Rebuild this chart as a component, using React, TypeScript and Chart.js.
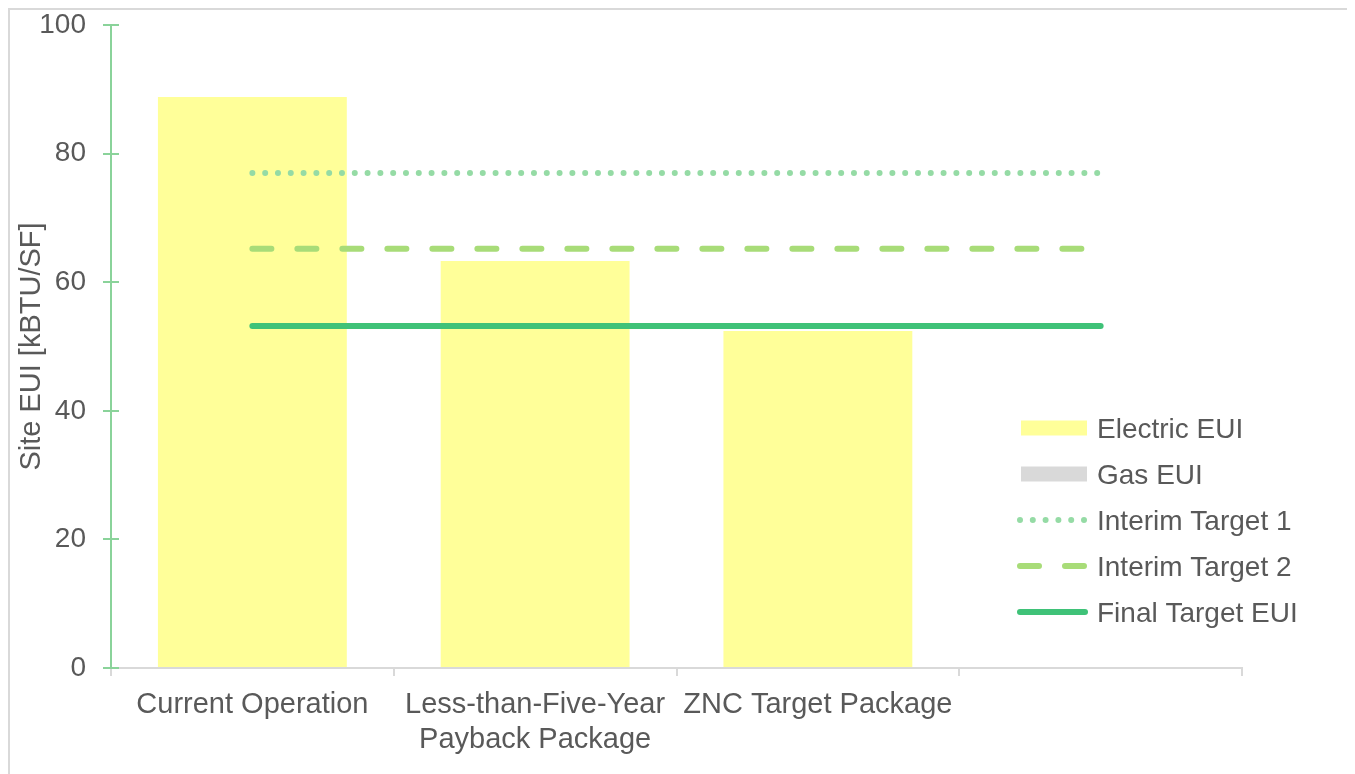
import React, { useEffect, useRef } from "react";
import { Chart, registerables } from "chart.js";

Chart.register(...registerables);

// ---- Data ----
const categories: (string | string[])[] = [
  "Current Operation",
  ["Less-than-Five-Year", "Payback Package"],
  "ZNC Target Package",
  "",
];
const electricEUI = [88.8, 63.3, 52.4, null];
const gasEUI = [0, 0, 0, null];
const interimTarget1 = [77, 77, 77, 77];
const interimTarget2 = [65.2, 65.2, 65.2, 65.2];
const finalTargetEUI = [53.2, 53.2, 53.2, 53.2];
const yTicks = [0, 20, 40, 60, 80, 100];
const yTitle = "Site EUI [kBTU/SF]";

// ---- Styles ----
const FONT = '"Liberation Sans", Arial, sans-serif';
const TEXT = "#595959";
const AXIS_GREEN = "#8ad39a";
const GRAY = "#d9d9d9";

const crossTicksPlugin = {
  id: "crossTicks",
  afterDraw(chart: any) {
    const ys = chart.scales.y;
    const ctx = chart.ctx;
    ctx.save();
    ctx.strokeStyle = AXIS_GREEN;
    ctx.lineWidth = 2;
    ys.ticks.forEach((_t: any, i: number) => {
      const py = Math.round(ys.getPixelForTick(i));
      ctx.beginPath();
      ctx.moveTo(chart.chartArea.left, py);
      ctx.lineTo(chart.chartArea.left + 8, py);
      ctx.stroke();
    });
    ctx.restore();
  },
};

const legendPlugin = {
  id: "customLegend",
  afterDraw(chart: any) {
    const ctx = chart.ctx;
    const area = chart.chartArea;
    const symLeft = area.right - 221;
    const textLeft = area.right - 145;
    const rowY0 = area.bottom - 240;
    const rowH = 46;
    chart.data.datasets.forEach((ds: any, i: number) => {
      const y = rowY0 + i * rowH;
      ctx.save();
      if (ds.type === "line") {
        ctx.strokeStyle = ds.borderColor;
        ctx.lineWidth = ds.borderWidth;
        ctx.lineCap = "round";
        ctx.setLineDash(ds.borderDash || []);
        ctx.beginPath();
        ctx.moveTo(symLeft - 1, y);
        ctx.lineTo(symLeft + 64, y);
        ctx.stroke();
      } else {
        ctx.fillStyle = ds.backgroundColor;
        ctx.fillRect(symLeft, y - 7.5, 66, 15);
      }
      ctx.setLineDash([]);
      ctx.fillStyle = TEXT;
      ctx.font = `28px ${FONT}`;
      ctx.textBaseline = "middle";
      ctx.textAlign = "left";
      ctx.fillText(ds.label, textLeft, y + 2);
      ctx.restore();
    });
  },
};

export default function App() {
  const ref = useRef<HTMLCanvasElement | null>(null);

  useEffect(() => {
    if (!ref.current) return;
    const chart = new Chart(ref.current, {
      type: "bar",
      data: {
        labels: categories as any,
        datasets: [
          {
            type: "bar",
            label: "Electric EUI",
            data: electricEUI as any,
            backgroundColor: "#ffff99",
            stack: "eui",
            order: 1,
            barPercentage: 0.668,
            categoryPercentage: 1,
          },
          {
            type: "bar",
            label: "Gas EUI",
            data: gasEUI as any,
            backgroundColor: GRAY,
            stack: "eui",
            order: 1,
            barPercentage: 0.668,
            categoryPercentage: 1,
          },
          {
            type: "line",
            label: "Interim Target 1",
            data: interimTarget1,
            borderColor: "#95dba5",
            borderWidth: 6,
            borderDash: [0, 12.8],
            borderCapStyle: "round",
            pointRadius: 0,
            fill: false,
            stack: "t1",
            order: 0,
          },
          {
            type: "line",
            label: "Interim Target 2",
            data: interimTarget2,
            borderColor: "#a8dc78",
            borderWidth: 6,
            borderDash: [19, 26],
            borderCapStyle: "round",
            pointRadius: 0,
            fill: false,
            stack: "t2",
            order: 0,
          },
          {
            type: "line",
            label: "Final Target EUI",
            data: finalTargetEUI,
            borderColor: "#3fc278",
            borderWidth: 6,
            borderCapStyle: "round",
            pointRadius: 0,
            fill: false,
            stack: "t3",
            order: 0,
          },
        ] as any,
      },
      options: {
        responsive: false,
        animation: false,
        devicePixelRatio: 1,
        layout: {
          autoPadding: false,
          padding: { top: 15, right: 110, left: 0, bottom: 0 },
        } as any,
        plugins: {
          legend: { display: false },
          tooltip: { enabled: false },
        },
        scales: {
          x: {
            stacked: true,
            offset: true,
            afterFit(scale: any) {
              scale.height = 106;
              scale.paddingLeft = 0;
              scale.paddingRight = 0;
            },
            grid: {
              offset: true,
              drawOnChartArea: false,
              drawTicks: true,
              tickLength: 8,
              color: GRAY,
              lineWidth: 2,
            },
            border: { color: GRAY, width: 2 },
            ticks: {
              color: TEXT,
              font: { family: FONT, size: 29 },
              padding: 12,
              maxRotation: 0,
              minRotation: 0,
              autoSkip: false,
            },
          },
          y: {
            stacked: true,
            min: yTicks[0],
            max: yTicks[yTicks.length - 1],
            afterFit(scale: any) {
              scale.width = 101;
              scale.paddingTop = 0;
              scale.paddingBottom = 0;
            },
            afterBuildTicks(scale: any) {
              scale.ticks = yTicks.map((v) => ({ value: v }));
            },
            grid: {
              drawOnChartArea: false,
              drawTicks: true,
              tickLength: 8,
              color: AXIS_GREEN,
              lineWidth: 2,
            },
            border: { color: AXIS_GREEN, width: 2 },
            ticks: {
              color: TEXT,
              font: { family: FONT, size: 28 },
              padding: 17,
            },
            title: {
              display: true,
              text: yTitle,
              color: TEXT,
              font: { family: FONT, size: 29 },
              padding: { top: 5, bottom: 0 },
            },
          },
        },
      } as any,
      plugins: [crossTicksPlugin, legendPlugin],
    });
    return () => chart.destroy();
  }, []);

  return (
    <div
      style={{
        width: 1346,
        height: 780,
        border: `2px solid ${GRAY}`,
        boxSizing: "border-box",
        background: "#fff",
      }}
    >
      <canvas
        ref={ref}
        width={1342}
        height={764}
        style={{ display: "block", width: 1342, height: 764 }}
      />
    </div>
  );
}
